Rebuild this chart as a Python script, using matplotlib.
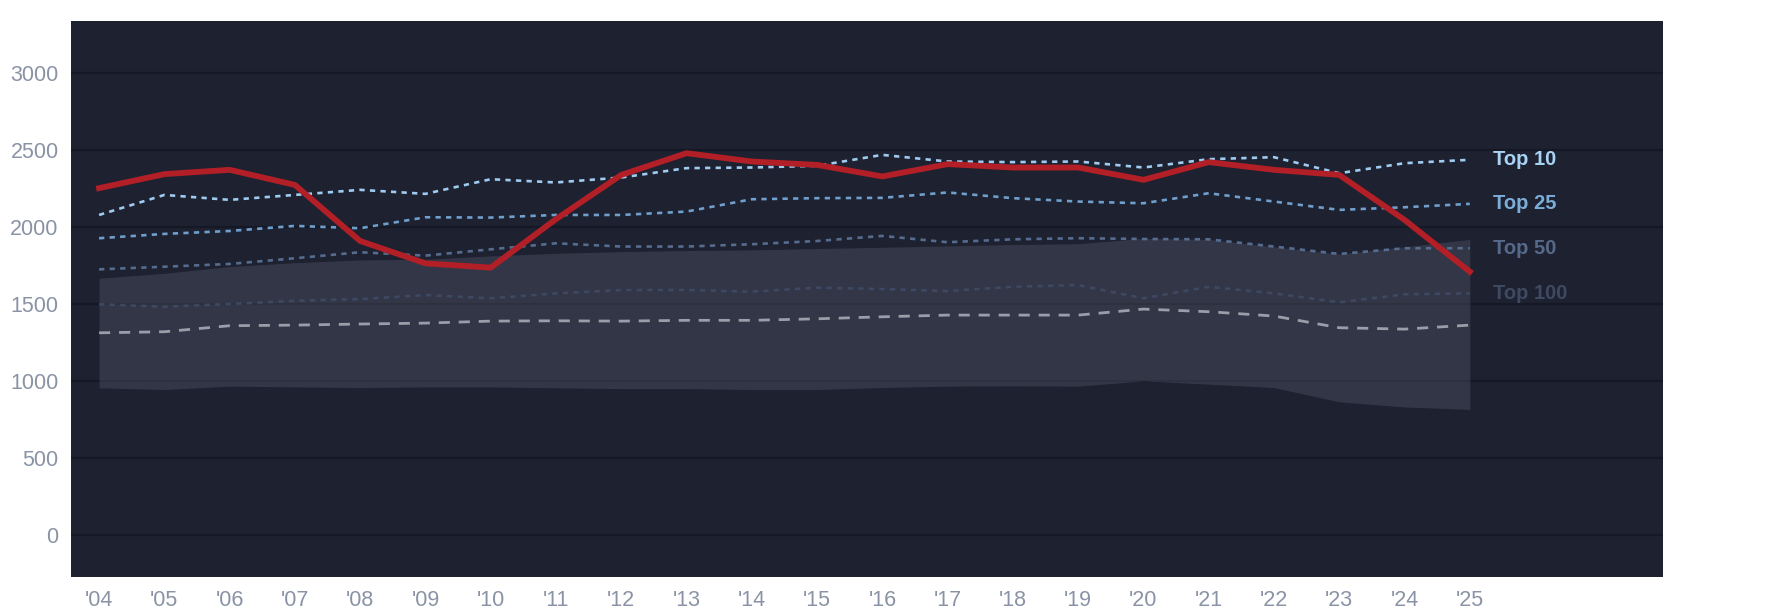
import numpy as np
import matplotlib
matplotlib.use('Agg')
import matplotlib.pyplot as plt

plt.rcParams['font.family'] = ['Liberation Sans', 'DejaVu Sans']

years = list(range(2004, 2026))
year_labels = ["'%02d" % (y % 100) for y in years]

team = [2251, 2342, 2370, 2272, 1908, 1763, 1735, 2050, 2337, 2478, 2424, 2402,
        2327, 2407, 2385, 2385, 2305, 2420, 2370, 2337, 2045, 1709]
top10 = [2077, 2207, 2175, 2207, 2240, 2214, 2309, 2288, 2320, 2381, 2385, 2396,
         2467, 2424, 2420, 2424, 2385, 2439, 2452, 2348, 2413, 2435]
top25 = [1926, 1954, 1973, 2006, 1991, 2062, 2060, 2077, 2077, 2099, 2179, 2186,
         2188, 2223, 2186, 2164, 2153, 2218, 2164, 2110, 2127, 2149]
top50 = [1724, 1741, 1759, 1796, 1835, 1813, 1854, 1893, 1872, 1872, 1887, 1908,
         1941, 1900, 1919, 1926, 1921, 1919, 1872, 1824, 1861, 1861]
top100 = [1497, 1481, 1499, 1520, 1531, 1557, 1536, 1568, 1590, 1590, 1579, 1605,
          1596, 1583, 1611, 1622, 1536, 1611, 1568, 1510, 1562, 1568]
median = [1312, 1319, 1358, 1362, 1369, 1375, 1388, 1390, 1388, 1393, 1393, 1403,
          1416, 1427, 1427, 1427, 1466, 1449, 1421, 1345, 1336, 1362]
band_hi = [1666, 1698, 1742, 1767, 1785, 1789, 1811, 1828, 1839, 1846, 1850, 1859,
           1867, 1876, 1885, 1890, 1925, 1918, 1870, 1823, 1870, 1918]
band_lo = [955, 944, 966, 961, 957, 961, 961, 955, 950, 950, 944, 944,
           957, 966, 968, 966, 1000, 979, 957, 864, 831, 815]

tier_names = ['Top 10', 'Top 25', 'Top 50', 'Top 100']
tier_values = [top10, top25, top50, top100]
tier_colors = ['#9fcbf0', '#6f9fcc', '#566c8e', '#3d4862']
tier_text_colors = ['#a9d3f5', '#7cadd9', '#56698a', '#3f4a62']

bg = '#1d2130'
grid_c = '#151925'

fig = plt.figure(figsize=(17.85, 6.14), dpi=100)
ax = fig.add_axes([71 / 1785, 37 / 614, 1592 / 1785, 556 / 614])
ax.set_facecolor(bg)

# shaded range
ax.fill_between(years, band_lo, band_hi, color='#5c6072', alpha=0.35, lw=0, zorder=2)

for vals, c in zip(tier_values, tier_colors):
    ax.plot(years, vals, color=c, lw=1.9, dashes=(2.0, 2.0), zorder=3)
ax.plot(years, median, color='#9a9ea8', lw=2.0, dashes=(4.0, 3.2), zorder=3)
ax.plot(years, team, color='#b21f26', lw=4.2, zorder=4)

for name, vals, c in zip(tier_names, tier_values, tier_text_colors):
    ax.text(years[-1] + 0.36, vals[-1], name, color=c, fontsize=14.5,
            fontweight='bold', va='center', ha='left', zorder=5)

ax.set_xlim(2003.57, 2027.96)
ax.set_ylim(-273, 3336)
ax.set_yticks(np.arange(0, 3001, 500))
ax.set_xticks(years)
ax.set_xticklabels(year_labels)
ax.grid(axis='y', color=grid_c, lw=1.6, zorder=1)
ax.set_axisbelow(True)
for s in ax.spines.values():
    s.set_visible(False)
ax.tick_params(axis='both', length=0, labelsize=15.5, colors='#8a93a5')
ax.tick_params(axis='y', pad=9)
ax.tick_params(axis='x', pad=9)

fig.savefig('out.png', dpi=100, facecolor='white')
